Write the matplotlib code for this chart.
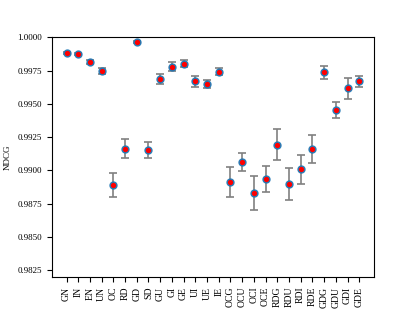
import matplotlib
matplotlib.use("Agg")
import matplotlib.pyplot as plt
import numpy as np

plt.rcParams['font.family'] = ['Liberation Serif', 'DejaVu Serif']

categories = ["GN", "IN", "EN", "UN", "OC", "RD", "GD", "SD", "GU", "GI", "GE", "UI", "UE", "IE",
              "OCG", "OCU", "OCI", "OCE", "RDG", "RDU", "RDI", "RDE", "GDG", "GDU", "GDI", "GDE"]
means = [0.99884, 0.99872, 0.99815, 0.99747, 0.98889, 0.99164, 0.99965, 0.99154, 0.99689, 0.99780,
         0.99802, 0.99670, 0.99652, 0.99740, 0.98911, 0.99062, 0.98831, 0.98934, 0.99194, 0.98896,
         0.99009, 0.99159, 0.99737, 0.99454, 0.99617, 0.99670]
errors = [0.00008, 0.00007, 0.00018, 0.00022, 0.00092, 0.00068, 0.00005, 0.00059, 0.00039, 0.00034,
          0.00024, 0.00040, 0.00030, 0.00026, 0.00115, 0.00070, 0.00130, 0.00100, 0.00116, 0.00118,
          0.00109, 0.00104, 0.00048, 0.00059, 0.00078, 0.00042]

fig, ax = plt.subplots(figsize=(4.15, 3.11), dpi=100)
x = np.arange(len(categories))
ax.errorbar(x, means, yerr=errors, fmt='none', ecolor='gray', elinewidth=1.2, capsize=3, capthick=1.2)
ax.plot(x, means, 'o', color='#1f77b4', markersize=5, alpha=0.9, linestyle='none')
ax.plot(x, means, 'o', color='red', markersize=2.8, linestyle='none')

ax.set_xticks(x)
ax.set_xticklabels(categories, rotation=90, fontsize=7)
ax.set_ylim(0.982, 1.0)
ax.set_xlim(-1.25, 26.22)
ax.set_yticks(np.arange(0.9825, 1.00001, 0.0025))
ax.yaxis.set_major_formatter(matplotlib.ticker.FormatStrFormatter('%.4f'))
ax.tick_params(axis='y', labelsize=6.5)
ax.set_ylabel('NDCG', fontsize=6.5, labelpad=4)
fig.savefig('out.png', dpi=100)
